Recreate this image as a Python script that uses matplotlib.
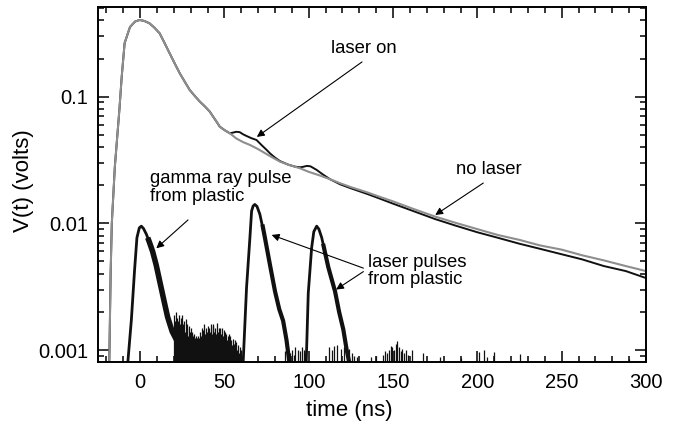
import matplotlib
matplotlib.use("Agg")
import matplotlib.pyplot as plt
from matplotlib.ticker import FixedLocator, FixedFormatter, LogLocator, NullFormatter, MultipleLocator

plt.rcParams['font.family'] = ['Liberation Sans', 'DejaVu Sans']

# ---------------- data ----------------
# "no laser" trace (grey)
no_laser_t = [-18.3, -17.5, -16.8, -15.0, -12.3, -10.9, -9.2, -6.0, -3.0, -0.3, 2.5, 5.6,
              8.5, 11.6, 14.5, 17.5, 20.5, 23.5, 26.5, 29.4, 32.5, 35.4, 38.5, 41.3,
              43.3, 45.3, 47.2, 50.0, 53.2, 57.0, 61.0, 65.1, 70.0, 75.0, 79.0, 82.9,
              88.0, 94.8, 100.0, 106.0, 112.6, 118.7, 125.0, 135.0, 142.0, 150.0, 162.0,
              175.0, 187.0, 200.0, 212.0, 225.0, 237.0, 250.0, 262.0, 275.0, 288.0, 300.0]
no_laser_v = [0.0008, 0.004, 0.01, 0.028, 0.079, 0.145, 0.265, 0.355, 0.392, 0.403, 0.396, 0.379,
              0.35, 0.316, 0.265, 0.220, 0.183, 0.153, 0.131, 0.113, 0.101, 0.0914, 0.0835, 0.0762,
              0.0695, 0.0635, 0.058, 0.0545, 0.0514, 0.0468, 0.0438, 0.0416, 0.0385, 0.0352, 0.0328, 0.0307,
              0.0290, 0.0272, 0.0255, 0.0240, 0.0223, 0.0207, 0.0193, 0.0175, 0.0162, 0.0149, 0.0130,
              0.0113, 0.0101, 0.0090, 0.0081, 0.0074, 0.0067, 0.0062, 0.0056, 0.0051, 0.0046, 0.0042]

# "laser on" trace (black) after it separates from the grey one
laser_on_t_late = [53.2, 55.0, 57.0, 59.0, 61.0, 63.0, 66.0, 69.0, 72.0, 75.0, 77.0, 80.0, 82.9,
                   88.0, 92.0, 95.0, 97.0, 98.8, 101.0, 104.7, 108.0, 112.6, 118.7, 125.0,
                   135.0, 142.0, 150.0, 162.0, 175.0, 187.0, 200.0, 212.0, 225.0, 237.0,
                   250.0, 262.0, 275.0, 288.0, 300.0]
laser_on_v_late = [0.0514, 0.052, 0.0528, 0.0525, 0.0505, 0.049, 0.047, 0.0455, 0.0415, 0.0380,
                   0.0357, 0.033, 0.031, 0.0290, 0.0280, 0.0277, 0.028, 0.0284, 0.0282, 0.0264,
                   0.0245, 0.0223, 0.0203, 0.0189, 0.0170, 0.0157, 0.0143, 0.0125, 0.0108,
                   0.0096, 0.0085, 0.0077, 0.0069, 0.0063, 0.0057, 0.0052, 0.0046, 0.0042, 0.0037]

# plastic scintillator pulses (black): rise and decay parts
gamma_rise_t = [-7.3, -5.2, -3.3, -1.9, -0.5, 0.7, 2.0, 3.7, 5.5]
gamma_rise_v = [0.0008, 0.00173, 0.00428, 0.0077, 0.0092, 0.0095, 0.0091, 0.0082, 0.0071]
gamma_tail_t = [4.5, 5.5, 7.4, 9.5, 11.6, 14.0, 16.3, 19.0, 22.0, 25.0]
gamma_tail_v = [0.0077, 0.0071, 0.0060, 0.0047, 0.0035, 0.0025, 0.00182, 0.0014, 0.00117, 0.0010]

pulse2_rise_t = [61.1, 63.1, 65.1, 66.1, 67.0, 68.0, 69.3, 71.0, 74.0]
pulse2_rise_v = [0.0008, 0.0031, 0.0077, 0.0125, 0.0137, 0.0141, 0.0136, 0.0118, 0.0077]
pulse2_tail_t = [72.5, 74.0, 77.0, 80.0, 82.5, 84.8, 86.8, 88.5]
pulse2_tail_v = [0.0098, 0.0077, 0.0047, 0.0029, 0.0021, 0.0017, 0.0012, 0.0008]

pulse3_rise_t = [98.5, 99.7, 101.7, 103.0, 104.7, 106.0, 107.7, 109.5]
pulse3_rise_v = [0.0008, 0.0028, 0.0064, 0.0086, 0.0095, 0.0090, 0.0077, 0.0060]
pulse3_tail_t = [108.5, 109.5, 111.6, 115.6, 118.0, 120.5, 122.5, 124.0]
pulse3_tail_v = [0.0069, 0.0060, 0.0045, 0.0029, 0.0020, 0.00145, 0.0010, 0.0008]

# dense noise after the gamma pulse: solid body
noise_body_t = [21, 22, 24, 26, 28, 30, 32, 34, 36, 38, 40, 42, 44, 46, 48, 50, 52, 54, 56, 58, 60, 61]
noise_body_v = [0.0008, 0.0014, 0.0013, 0.00125, 0.00122, 0.0012, 0.00118, 0.00115, 0.00118, 0.0012,
                0.0012, 0.00122, 0.00122, 0.0012, 0.00118, 0.00115, 0.0011, 0.00105, 0.001, 0.00094,
                0.00088, 0.0008]
# dense noise spikes, from 20 ns every 0.5 ns
dense_spike_t0 = 20.0
dense_spike_v = [0.0019, 0.0017, 0.0020, 0.0016, 0.0018, 0.0017, 0.0019, 0.0016,
                 0.0018, 0.0015, 0.0019, 0.0016, 0.0017, 0.0014, 0.00175, 0.0015,
                 0.0016, 0.0013, 0.00155, 0.0014, 0.0015, 0.00135, 0.0014, 0.0013,
                 0.00135, 0.00125, 0.0013, 0.0012, 0.00125, 0.0013, 0.00125, 0.0014,
                 0.00128, 0.0015, 0.0013, 0.00145, 0.0016, 0.00135, 0.0015, 0.0014,
                 0.00155, 0.0013, 0.0015, 0.0014, 0.0016, 0.00135, 0.00155, 0.0016,
                 0.0014, 0.0015, 0.00135, 0.00162, 0.0014, 0.0015, 0.0013, 0.00148,
                 0.00135, 0.0015, 0.0013, 0.00145, 0.00128, 0.0014, 0.00135, 0.0012,
                 0.0013, 0.00135, 0.00118, 0.00128, 0.0012, 0.0011, 0.00122, 0.00112,
                 0.0012, 0.00105, 0.00115, 0.001, 0.0011, 0.00095, 0.00105, 0.0009, 0.001, 0.00088]
# sparse noise spikes
spike_t = [86, 87.5, 89, 90, 91, 92, 93.5, 95, 96, 97, 98,
           112, 113.5, 115, 117, 119, 121, 122.5, 124, 125.5, 127, 128.5,
           137, 140, 144, 145.5, 146.5, 147.5, 148.5, 149.5, 150.5, 151.5,
           152.5, 153.5, 154.5, 155.5, 156.5, 157.5, 159, 161, 168,
           178, 190, 201, 204, 206, 210, 225, 290]
spike_v = [0.00098, 0.00105, 0.00095, 0.001, 0.00092, 0.00105, 0.001, 0.00098, 0.00106, 0.001, 0.00094,
           0.00105, 0.001, 0.00108, 0.0011, 0.00102, 0.00106, 0.00098, 0.00102, 0.00095, 0.0009, 0.00088,
           0.00088, 0.0009, 0.00092, 0.00098, 0.00095, 0.001, 0.00108, 0.00105, 0.001, 0.00112,
           0.00118, 0.00105, 0.00098, 0.00102, 0.00095, 0.001, 0.00092, 0.001, 0.00095,
           0.00088, 0.00086, 0.00097, 0.001, 0.00088, 0.00097, 0.00093, 0.00085]

y_ticks = [0.001, 0.01, 0.1]
y_ticklabels = ["0.001", "0.01", "0.1"]
x_ticks = [0, 50, 100, 150, 200, 250, 300]

# ---------------- figure ----------------
fig = plt.figure(figsize=(6.79, 4.26), dpi=100)
ax = fig.add_axes([0.1443, 0.1502, 0.8071, 0.8333])
ymin, ymax = 0.000804, 0.51

ax.set_yscale('log')
ax.set_xlim(-25, 300)
ax.set_ylim(ymin, ymax)

ink = '#111111'
# noise
dense_spike_t = [dense_spike_t0 + 0.5 * i for i in range(len(dense_spike_v))]
ax.fill_between(noise_body_t, ymin * 0.9, noise_body_v, color=ink, lw=0)
ax.vlines(dense_spike_t, ymin * 0.9, dense_spike_v, color=ink, lw=0.9)
ax.vlines(spike_t, ymin * 0.9, spike_v, color=ink, lw=0.9)

# pulses
for tt, vv, lw in [(gamma_rise_t, gamma_rise_v, 2.0), (gamma_tail_t, gamma_tail_v, 4.0),
                   (pulse2_rise_t, pulse2_rise_v, 2.0), (pulse2_tail_t, pulse2_tail_v, 3.0),
                   (pulse3_rise_t, pulse3_rise_v, 2.0), (pulse3_tail_t, pulse3_tail_v, 3.0)]:
    ax.plot(tt, vv, color=ink, lw=lw, solid_joinstyle='round', solid_capstyle='butt')

# laser on (black) then no laser (grey)
k = no_laser_t.index(53.2)
laser_on_t = no_laser_t[:k] + laser_on_t_late
laser_on_v = no_laser_v[:k] + laser_on_v_late
ax.plot(laser_on_t, laser_on_v, color=ink, lw=1.4)
ax.plot(no_laser_t, no_laser_v, color='#8e8e8e', lw=1.5)

# axes styling
for s in ax.spines.values():
    s.set_linewidth(1.4)
ax.xaxis.set_major_locator(FixedLocator(x_ticks))
ax.xaxis.set_minor_locator(MultipleLocator(10))
ax.yaxis.set_major_locator(FixedLocator(y_ticks))
ax.yaxis.set_major_formatter(FixedFormatter(y_ticklabels))
ax.yaxis.set_minor_locator(LogLocator(base=10, subs=range(2, 10)))
ax.yaxis.set_minor_formatter(NullFormatter())
ax.tick_params(which='both', direction='in', top=True, right=True, width=1.1, labelsize=14.5)
ax.tick_params(which='major', length=8)
ax.tick_params(which='minor', length=4.5)
ax.tick_params(axis='x', which='major', pad=8)
ax.tick_params(axis='y', which='major', pad=7)

ax.set_xlabel("time (ns)", fontsize=16)
ax.set_ylabel("V(t) (volts)", fontsize=16)
ax.xaxis.set_label_coords(0.458, -0.107)
ax.yaxis.set_label_coords(-0.117, 0.51)

# annotations
arrow = dict(arrowstyle='-|>', color='black', lw=0.8, mutation_scale=11, shrinkA=0, shrinkB=0)
fs = 13.3
ax.text(132.8, 0.242, "laser on", fontsize=fs, ha='center', va='center')
ax.annotate("", xy=(69.2, 0.0481), xytext=(131.6, 0.188), arrowprops=arrow)

ax.text(206.5, 0.0264, "no laser", fontsize=fs, ha='center', va='center')
ax.annotate("", xy=(175.0, 0.01164), xytext=(203.5, 0.0208), arrowprops=arrow)

ax.text(5.6, 0.0192, "gamma ray pulse\nfrom plastic", fontsize=fs, ha='left', va='center',
        linespacing=1.05)
ax.annotate("", xy=(9.6, 0.00635), xytext=(28.4, 0.01064), arrowprops=arrow)

ax.text(135.4, 0.00421, "laser pulses\nfrom plastic", fontsize=fs, ha='left', va='center',
        linespacing=1.05)
ax.annotate("", xy=(78.0, 0.0081), xytext=(132.4, 0.00443), arrowprops=arrow)
ax.annotate("", xy=(116.2, 0.0030), xytext=(132.4, 0.00416), arrowprops=arrow)

fig.savefig("out.png", dpi=100)
